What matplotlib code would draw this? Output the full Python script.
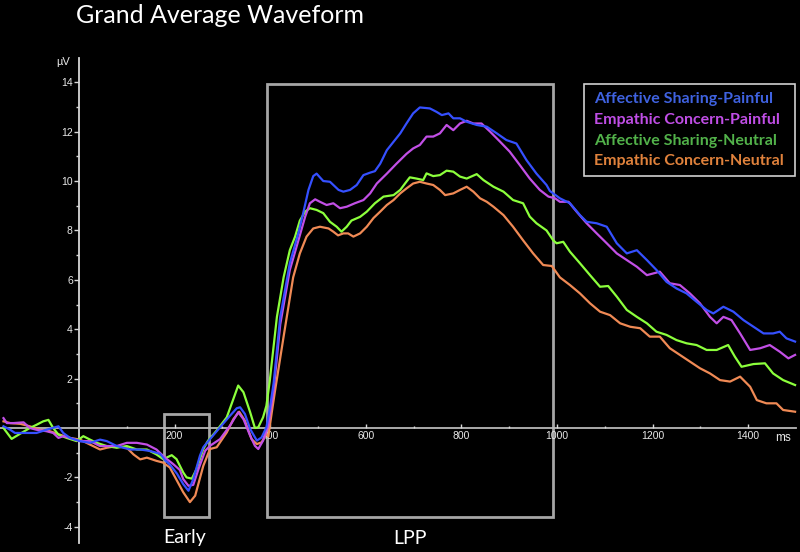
import matplotlib
matplotlib.use("Agg")
import matplotlib.pyplot as plt
from matplotlib.patches import Rectangle

# ---------------- data (ms, µV) ----------------
t_asp = [-158, -144, -134, -110, -89, -68, -43, -33, -19, 2, 23, 44, 58, 79, 107, 128, 149, 170,
         180, 191, 205, 218, 229, 239, 253, 260, 274, 295, 316, 330, 337, 347, 358, 372, 382, 392,
         399, 407, 421, 441, 459, 469, 480, 490, 497, 511, 525, 543, 553, 567, 581, 595, 609, 619,
         630, 644, 672, 685, 699, 713, 734, 748, 759, 773, 783, 797, 811, 832, 853, 874, 894, 915,
         936, 957, 978, 985, 1006, 1027, 1048, 1062, 1083, 1104, 1125, 1146, 1167, 1188, 1208, 1229,
         1250, 1271, 1292, 1313, 1327, 1348, 1369, 1390, 1411, 1432, 1452, 1466, 1480, 1498]
v_asp = [0.07, -0.07, -0.2, -0.2, -0.2, -0.07, 0.07, -0.2, -0.4, -0.53, -0.6, -0.47, -0.53, -0.73,
         -0.87, -0.87, -0.93, -1.05, -1.3, -1.5, -1.85, -2.27, -2.54, -2.07, -1.12, -0.78, -0.45,
         0.03, 0.5, 0.8, 0.84, 0.57, -0.04, -0.51, -0.38, 0.03, 0.77, 1.8, 4.5, 6.67, 7.9, 8.7, 9.64,
         10.2, 10.3, 10.0, 9.97, 9.64, 9.57, 9.64, 9.84, 10.24, 10.34, 10.4, 10.7, 11.25, 11.93,
         12.33, 12.74, 12.98, 12.94, 12.8, 12.67, 12.74, 12.54, 12.54, 12.4, 12.27, 12.2, 11.93,
         11.66, 11.52, 10.85, 10.3, 9.84, 9.6, 9.3, 9.1, 8.62, 8.35, 8.29, 8.15, 7.48, 7.07, 7.2,
         6.8, 6.4, 5.92, 5.65, 5.45, 5.11, 4.78, 4.64, 4.91, 4.71, 4.37, 4.1, 3.83, 3.83, 3.9, 3.63,
         3.5]

t_ecp = [-158, -151, -137, -116, -103, -89, -68, -54, -43, -33, -19, 2, 23, 44, 58, 79, 100, 121,
         142, 162, 180, 197, 211, 218, 229, 239, 250, 264, 274, 295, 316, 333, 344, 358, 368, 375,
         385, 396, 403, 407, 421, 441, 459, 473, 483, 494, 504, 518, 532, 546, 560, 577, 595, 609,
         623, 644, 664, 685, 699, 713, 727, 741, 755, 769, 783, 797, 811, 825, 842, 860, 881, 901,
         922, 943, 964, 982, 996, 1006, 1024, 1041, 1062, 1083, 1104, 1125, 1146, 1167, 1188, 1215,
         1236, 1257, 1278, 1299, 1320, 1334, 1348, 1365, 1383, 1404, 1425, 1445, 1466, 1484, 1498]
v_ecp = [0.4, 0.2, 0.2, 0.23, 0.0, -0.07, -0.13, -0.2, -0.4, -0.33, -0.4, -0.53, -0.53, -0.73,
         -0.73, -0.73, -0.6, -0.6, -0.67, -0.87, -1.2, -1.46, -1.7, -2.07, -2.34, -2.3, -1.66, -0.92,
         -0.72, -0.45, 0.1, 0.64, 0.36, -0.31, -0.72, -0.85, -0.51, 0.1, 1.0, 1.5, 4.2, 6.4, 7.6,
         8.55, 9.1, 9.26, 9.16, 9.03, 9.1, 8.9, 8.96, 9.1, 9.23, 9.5, 9.9, 10.3, 10.7, 11.1, 11.32,
         11.46, 11.8, 11.8, 11.93, 12.27, 12.06, 12.33, 12.44, 12.33, 12.33, 12.0, 11.59, 11.19,
         10.65, 10.1, 9.64, 9.37, 9.3, 9.16, 9.16, 8.76, 8.29, 7.88, 7.48, 7.07, 6.8, 6.53, 6.19,
         6.33, 5.86, 5.79, 5.45, 5.05, 4.5, 4.24, 4.5, 4.37, 3.83, 3.16, 3.23, 3.36, 3.09, 2.82, 2.96]

t_asn = [-158, -141, -123, -103, -89, -75, -64, -54, -43, -26, -5, 9, 23, 37, 58, 79, 100, 121,
         142, 162, 176, 194, 204, 218, 225, 236, 246, 260, 270, 288, 309, 323, 333, 344, 358, 368,
         375, 385, 392, 399, 403, 414, 428, 441, 452, 462, 473, 483, 497, 511, 525, 539, 549, 560,
         570, 588, 602, 619, 637, 658, 672, 682, 692, 706, 720, 727, 741, 755, 769, 783, 797, 811,
         832, 846, 867, 888, 908, 929, 943, 957, 978, 992, 999, 1013, 1027, 1048, 1069, 1090, 1107,
         1125, 1146, 1167, 1188, 1208, 1229, 1250, 1271, 1292, 1313, 1334, 1358, 1372, 1386, 1411,
         1435, 1452, 1473, 1498]
v_asn = [0.0, -0.44, -0.23, 0.0, 0.13, 0.27, 0.33, 0.0, -0.27, -0.4, -0.53, -0.33, -0.47, -0.6,
         -0.73, -0.8, -0.73, -0.87, -0.87, -1.07, -1.26, -1.1, -1.26, -1.8, -2.0, -2.05, -1.66,
         -0.85, -0.51, -0.1, 0.43, 1.18, 1.72, 1.45, 0.64, 0.0, 0.03, 0.43, 0.9, 1.9, 2.6, 4.5, 6.1,
         7.2, 7.75, 8.4, 8.76, 8.9, 8.83, 8.7, 8.35, 8.15, 7.95, 8.15, 8.4, 8.55, 8.76, 9.1, 9.37,
         9.43, 9.64, 9.9, 10.15, 10.1, 10.04, 10.31, 10.2, 10.24, 10.42, 10.38, 10.18, 10.1, 10.28,
         10.04, 9.77, 9.57, 9.23, 9.1, 8.56, 8.29, 8.0, 7.6, 7.48, 7.54, 7.14, 6.67, 6.19, 5.72,
         5.75, 5.32, 4.78, 4.5, 4.24, 3.9, 3.77, 3.56, 3.43, 3.36, 3.16, 3.16, 3.36, 2.89, 2.48,
         2.59, 2.62, 2.21, 1.94, 1.74]

t_ecn = [-158, -144, -123, -103, -82, -61, -40, -19, 2, 23, 44, 58, 79, 100, 114, 128, 142, 162,
         176, 190, 204, 218, 232, 243, 260, 274, 288, 309, 323, 335, 347, 361, 372, 382, 392, 396,
         403, 410, 428, 448, 462, 476, 490, 504, 522, 532, 542, 553, 563, 574, 588, 602, 616, 630,
         644, 658, 672, 685, 699, 713, 727, 741, 755, 766, 783, 797, 811, 825, 839, 853, 867, 888,
         908, 929, 950, 971, 989, 1006, 1027, 1048, 1069, 1090, 1111, 1132, 1153, 1174, 1194, 1215,
         1236, 1257, 1278, 1299, 1320, 1341, 1362, 1383, 1404, 1418, 1438, 1459, 1473, 1498]
v_ecn = [0.27, 0.2, 0.17, 0.07, -0.07, -0.13, -0.27, -0.4, -0.47, -0.67, -0.87, -0.8, -0.73, -0.8,
         -1.07, -1.27, -1.2, -1.33, -1.4, -1.6, -2.1, -2.6, -3.0, -2.74, -1.53, -0.85, -0.78, -0.18,
         0.36, 0.66, 0.3, -0.45, -0.65, -0.58, -0.24, -0.35, 0.6, 1.5, 3.7, 6.1, 7.07, 7.75, 8.08,
         8.15, 8.08, 7.95, 7.8, 7.88, 7.88, 7.75, 7.88, 8.15, 8.5, 8.76, 9.03, 9.23, 9.5, 9.7, 9.9,
         9.97, 9.9, 9.84, 9.64, 9.43, 9.5, 9.64, 9.77, 9.57, 9.3, 9.16, 8.96, 8.62, 8.15, 7.6, 7.07,
         6.6, 6.56, 6.1, 5.79, 5.45, 5.05, 4.71, 4.57, 4.24, 4.1, 4.04, 3.7, 3.7, 3.23, 2.96, 2.69,
         2.42, 2.21, 1.94, 1.88, 2.08, 1.67, 1.13, 1.0, 1.0, 0.73, 0.66]

series_names = ["Affective Sharing-Painful", "Empathic Concern-Painful",
                "Affective Sharing-Neutral", "Empathic Concern-Neutral"]
y_ticks = [-4, -2, 2, 4, 6, 8, 10, 12, 14]
x_ticks = [200, 400, 600, 800, 1000, 1200, 1400]
early_win = (178, 272)
lpp_win = (393, 992)

# ---------------- figure ----------------
W, H = 800, 552
fig = plt.figure(figsize=(W / 100, H / 100), dpi=100, facecolor="black")
ax = fig.add_axes([0, 0, 1, 1], facecolor="black")
ax.set_xlim(-165.3, 1508.3)
ax.set_ylim(-5.02, 17.33)

line_cols = ["#3550ff", "#c24fe6", "#8cff3c", "#f08a55"]
text_cols = ["#3f62e0", "#c04ee6", "#52b24a", "#e0823c"]
data = [(t_asp, v_asp), (t_ecp, v_ecp), (t_asn, v_asn), (t_ecn, v_ecn)]
for i in [3, 2, 1, 0]:
    tt, vv = data[i]
    ax.plot(tt, vv, color=line_cols[i], lw=1.6, zorder=3 + (3 - i))

# axes
for s in ["top", "right"]:
    ax.spines[s].set_visible(False)
ax.spines["left"].set_position(("data", 0))
ax.spines["left"].set_bounds(-4.65, 15.0)
ax.spines["left"].set_color("#d8d8d8")
ax.spines["left"].set_linewidth(1.3)
ax.spines["bottom"].set_position(("data", 0))
ax.spines["bottom"].set_bounds(-165, 1500)
ax.spines["bottom"].set_color("#b8b8b8")
ax.spines["bottom"].set_linewidth(1.3)
for s in ax.spines.values():
    s.set_zorder(1.5)
ax.xaxis.set_zorder(2)
ax.yaxis.set_zorder(2)

ax.set_yticks(y_ticks)
ax.set_yticklabels([str(v) for v in y_ticks])
ax.set_yticks([-3, -1, 1, 3, 5, 7, 9, 11, 13], minor=True)
ax.set_xticks(x_ticks)
ax.set_xticklabels([str(v) for v in x_ticks])
ax.set_xticks([100, 300, 500, 700, 900, 1100, 1300], minor=True)
ax.tick_params(axis="y", which="major", direction="out", length=3.5, width=1,
               color="#d8d8d8", labelcolor="#e8e8e8", labelsize=7.5, pad=1)
ax.tick_params(axis="y", which="minor", direction="out", length=2.5, width=1, color="#d8d8d8")
ax.tick_params(axis="x", which="major", direction="in", length=3, width=1,
               color="#d8d8d8", labelcolor="#e8e8e8", labelsize=7.5, pad=2)
ax.tick_params(axis="x", which="minor", direction="in", length=1.5, width=1, color="#d8d8d8")
for lab in ax.get_xticklabels() + ax.get_yticklabels():
    lab.set_family("Liberation Sans")

# window boxes
box_col = "#a6a6a6"
ax.add_patch(Rectangle((early_win[0], -3.6), early_win[1] - early_win[0], 0.57 + 3.6,
                       fill=False, ec=box_col, lw=2.0, zorder=1))
ax.add_patch(Rectangle((lpp_win[0], -3.6), lpp_win[1] - lpp_win[0], 13.93 + 3.6,
                       fill=False, ec=box_col, lw=2.0, zorder=1))


def fx(px):
    return px / W


def fy(py):
    return 1 - py / H


fig.text(fx(76), fy(23), "Grand Average Waveform", color="white", fontsize=18,
         family="Lato", ha="left", va="baseline")
fig.text(fx(185), fy(538), "Early", color="white", fontsize=14, family="Lato",
         ha="center", va="center")
fig.text(fx(410), fy(538), "LPP", color="white", fontsize=14, family="Lato",
         ha="center", va="center")
fig.text(fx(63), fy(62), "µV", color="#e8e8e8", fontsize=8, family="Liberation Sans",
         ha="center", va="center")
fig.text(fx(783), fy(438), "ms", color="#e8e8e8", fontsize=8.5, family="Liberation Sans",
         ha="center", va="center")

# legend
ax.add_patch(Rectangle((fx(584), fy(176)), fx(795) - fx(584), fy(84) - fy(176),
                       transform=fig.transFigure, fill=True, fc="black", ec="#d0d0d0",
                       lw=1.2, zorder=9))
for i, name in enumerate(series_names):
    fig.text(fx(594), fy(99 + 20.8 * i), name, color=text_cols[i], fontsize=11.5,
             family="Lato", fontweight="bold", ha="left", va="center", zorder=10)

fig.savefig("out.png", dpi=100, facecolor="black")
